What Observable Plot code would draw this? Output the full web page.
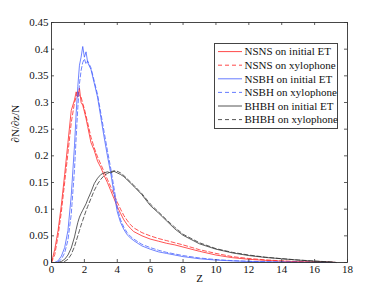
<!DOCTYPE html>
<html><head><meta charset="utf-8">
<script src="https://cdn.jsdelivr.net/npm/d3@7"></script>
<script src="https://cdn.jsdelivr.net/npm/@observablehq/plot@0.6"></script>
<style>
html,body{margin:0;padding:0;background:#fff;}
#chart{position:relative;width:382px;height:294px;font-family:"Liberation Serif","Times New Roman",serif;}
#legend{position:absolute;left:214px;top:43px;}
</style></head><body><div id="chart"></div>
<script>
const z = [0,0.2,0.4,0.6,0.8,1.0,1.2,1.4,1.5,1.6,1.7,1.8,1.9,2.0,2.1,2.2,2.4,2.6,2.8,3.0,3.2,3.4,3.6,3.8,4.0,4.2,4.4,4.6,4.8,5.0,5.5,6,6.5,7,7.5,8,9,10,11,12,13,14,15,16,17,17.3];
const nsnsET = [0,0.025,0.06,0.108,0.165,0.225,0.285,0.305,0.32,0.31,0.327,0.3,0.295,0.283,0.27,0.255,0.225,0.21,0.19,0.178,0.163,0.15,0.135,0.12,0.105,0.092,0.08,0.071,0.064,0.058,0.05,0.044,0.04,0.036,0.033,0.029,0.021,0.014,0.009,0.006,0.004,0.0025,0.0015,0.0008,0.0003,0];
const nsnsXy = [0,0.015,0.05,0.095,0.15,0.205,0.262,0.3,0.31,0.322,0.312,0.31,0.298,0.288,0.275,0.262,0.235,0.215,0.198,0.184,0.17,0.156,0.142,0.127,0.113,0.1,0.088,0.079,0.071,0.065,0.056,0.05,0.045,0.041,0.037,0.033,0.024,0.017,0.011,0.0075,0.005,0.003,0.0018,0.001,0.0004,0];
const nsbhET = [0,0,0.003,0.012,0.028,0.06,0.125,0.22,0.28,0.33,0.37,0.385,0.405,0.385,0.395,0.375,0.362,0.336,0.31,0.272,0.235,0.2,0.168,0.13,0.095,0.075,0.062,0.052,0.046,0.041,0.031,0.025,0.02,0.017,0.014,0.011,0.007,0.0045,0.003,0.002,0.0012,0.0008,0.0004,0.0002,0,0];
const nsbhXy = [0,0,0.001,0.006,0.018,0.042,0.09,0.175,0.235,0.29,0.335,0.36,0.375,0.382,0.372,0.378,0.365,0.34,0.315,0.28,0.245,0.21,0.177,0.14,0.103,0.08,0.066,0.056,0.049,0.044,0.034,0.028,0.023,0.019,0.016,0.013,0.0085,0.0055,0.0035,0.0023,0.0015,0.001,0.0005,0.0003,0.0001,0];
const bhbhET = [0,0,0,0.002,0.006,0.014,0.027,0.048,0.062,0.075,0.085,0.092,0.098,0.104,0.11,0.118,0.132,0.148,0.158,0.165,0.168,0.17,0.168,0.171,0.168,0.165,0.161,0.155,0.149,0.143,0.127,0.107,0.093,0.078,0.063,0.051,0.035,0.025,0.018,0.013,0.0095,0.007,0.0045,0.0025,0.001,0];
const bhbhXy = [0,0,0,0,0.002,0.006,0.015,0.03,0.04,0.05,0.06,0.07,0.079,0.088,0.097,0.105,0.12,0.135,0.147,0.156,0.163,0.167,0.17,0.172,0.171,0.168,0.163,0.157,0.151,0.145,0.129,0.11,0.095,0.08,0.066,0.053,0.037,0.026,0.019,0.014,0.01,0.0072,0.0047,0.0027,0.0011,0];

const seriesNames = ["NSNS on initial ET","NSNS on xylophone","NSBH on initial ET","NSBH on xylophone","BHBH on initial ET","BHBH on xylophone"];
const seriesValues = [nsnsET, nsnsXy, nsbhET, nsbhXy, bhbhET, bhbhXy];
const seriesColors = ["#ff1a1a","#ff1a1a","#3f5aff","#3f5aff","#2a2a2a","#2a2a2a"];
const seriesDash = [null,"4,2.5",null,"4,2.5",null,"4,2.5"];
const xTicks = [0,2,4,6,8,10,12,14,16,18];
const yTicks = [0,0.05,0.1,0.15,0.2,0.25,0.3,0.35,0.4,0.45];
const xLabel = "Z";
const yLabel = "∂N/∂z/N";

const W = 382, H = 294, mL = 51, mR = 35, mT = 22, mB = 32;
const innerW = W - mL - mR, innerH = H - mT - mB;

const lineMarks = seriesValues.map((vals, i) =>
  Plot.line(z.map((zz, j) => ({z: zz, v: vals[j]})), {
    x: "z", y: "v", stroke: seriesColors[i], strokeWidth: 0.75,
    strokeDasharray: seriesDash[i] || undefined
  })
);

const chart = Plot.plot({
  width: W, height: H,
  marginLeft: mL, marginRight: mR, marginTop: mT, marginBottom: mB,
  style: {fontFamily: '"Liberation Serif","Times New Roman",serif', fontSize: "11px", background: "#fff", color: "#111"},
  x: {domain: [0, 18], label: null},
  y: {domain: [0, 0.45], label: null},
  marks: [
    ...lineMarks,
    Plot.tickX(xTicks, {x: d => d, stroke: "#333", strokeWidth: 0.8, insetTop: innerH - 3}),
    Plot.tickX(xTicks, {x: d => d, stroke: "#333", strokeWidth: 0.8, insetBottom: innerH - 3}),
    Plot.tickY(yTicks, {y: d => d, stroke: "#333", strokeWidth: 0.8, insetRight: innerW - 3}),
    Plot.tickY(yTicks, {y: d => d, stroke: "#333", strokeWidth: 0.8, insetLeft: innerW - 3}),
    Plot.frame({stroke: "#333", strokeWidth: 0.9}),
    Plot.axisX(xTicks, {anchor: "bottom", tickSize: 0, tickPadding: 3, label: null, tickFormat: d => String(d)}),
    Plot.axisY(yTicks, {anchor: "left", tickSize: 0, tickPadding: 3, label: null, tickFormat: d => String(+d.toFixed(2))}),
    Plot.text([xLabel], {text: d => d, frameAnchor: "bottom", dy: 19, fontSize: 11}),
    Plot.text([yLabel], {text: d => d, frameAnchor: "left", dx: -36, rotate: -90, fontSize: 11})
  ]
});
const host = document.getElementById("chart");
host.appendChild(chart);

// legend
const lw = 124, lh = 86, rowH = 13.6;
const leg = d3.select(host).append("svg").attr("id", "legend").attr("width", lw).attr("height", lh)
  .style("font-family", '"Liberation Serif","Times New Roman",serif').style("font-size", "11px");
leg.append("rect").attr("x", 0.5).attr("y", 0.5).attr("width", lw - 1).attr("height", lh - 1)
  .attr("fill", "#fff").attr("stroke", "#444").attr("stroke-width", 1);
seriesNames.forEach((name, i) => {
  const cy = 8.6 + i * rowH;
  leg.append("line").attr("x1", 4).attr("x2", 28).attr("y1", cy).attr("y2", cy)
    .attr("stroke", seriesColors[i]).attr("stroke-width", 0.8)
    .attr("stroke-dasharray", seriesDash[i] ? "4,3" : null);
  leg.append("text").attr("x", 30.5).attr("y", cy).attr("dy", "0.35em").attr("fill", "#111").text(name);
});
</script></body></html>
